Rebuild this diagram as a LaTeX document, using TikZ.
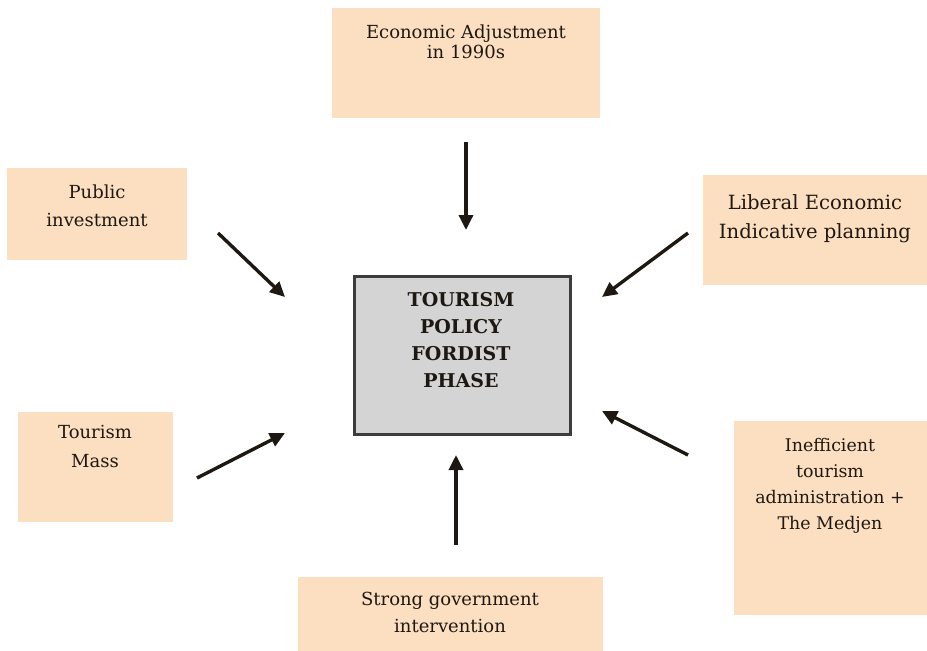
\documentclass[tikz,border=0pt]{standalone}
\usepackage{fontspec}
\setmainfont{DejaVu Serif}
\usetikzlibrary{arrows.meta}
\definecolor{peach}{HTML}{FCDEC1}
\definecolor{coregray}{HTML}{D4D4D4}
\definecolor{coreedge}{HTML}{3C3C3C}
\definecolor{ink}{HTML}{1E1812}
\tikzset{
  factor/.style={fill=peach, draw=none, inner sep=0pt, anchor=north west},
  factortext/.style 2 args={anchor=north, align=center, inner sep=0pt, text=ink,
    font=\fontsize{#1}{#2}\selectfont},
  core/.style={fill=coregray, draw=coreedge, line width=1.3pt, inner sep=0pt, anchor=north west},
  push/.style={line width=1.7pt, -{Triangle[length=7.5pt,width=7pt]}, ink},
}
\begin{document}
\begin{tikzpicture}[x=0.5pt, y=-0.5pt]
\useasboundingbox (0,0) rectangle (927,650);

% outer factor boxes
\node[factor, minimum width=134pt, minimum height=55pt] (econ) at (332,8) {};
\node[factortext={9}{10pt}] (econT) at (466,24) {Economic Adjustment\\in 1990s};

\node[factor, minimum width=90pt, minimum height=46pt] (pub) at (7,168) {};
\node[factortext={9}{14pt}] (pubT) at (97,184) {Public\\investment};

\node[factor, minimum width=112pt, minimum height=55pt] (lib) at (703,175) {};
\node[factortext={9.8}{14.5pt}] (libT) at (815,194) {Liberal Economic\\Indicative planning};

\node[factor, minimum width=77.5pt, minimum height=55pt] (mass) at (18,412) {};
\node[factortext={9}{14.5pt}] (massT) at (95,425) {Tourism\\Mass};

\node[factor, minimum width=96.5pt, minimum height=97pt] (ineff) at (734,421) {};
\node[factortext={8.7}{13pt}] (ineffT) at (830,438) {Inefficient\\tourism\\administration +\\The Medjen};

\node[factor, minimum width=152.5pt, minimum height=37pt] (gov) at (298,577) {};
\node[factortext={9}{13.5pt}] (govT) at (450,592) {Strong government\\intervention};

% central box
\node[core, minimum width=108pt, minimum height=79pt] (core) at (353,275) {};
\node[anchor=north, align=center, inner sep=0pt, text=ink,
  font=\bfseries\fontsize{9.5}{13.5pt}\selectfont] (coreT) at (461,292)
  {TOURISM\\POLICY\\FORDIST\\PHASE};

% arrow ends
\coordinate (econA) at (466,142);  \coordinate (econB) at (466,230);
\coordinate (pubA)  at (218,233);  \coordinate (pubB)  at (285,297);
\coordinate (libA)  at (688,233);  \coordinate (libB)  at (602,297);
\coordinate (massA) at (197,478);  \coordinate (massB) at (285,433);
\coordinate (ineffA) at (688,455); \coordinate (ineffB) at (602,411);
\coordinate (govA)  at (456,545);  \coordinate (govB)  at (456,455);

\draw[push] (econA) -- (econB);
\draw[push] (pubA) -- (pubB);
\draw[push] (libA) -- (libB);
\draw[push] (massA) -- (massB);
\draw[push] (ineffA) -- (ineffB);
\draw[push] (govA) -- (govB);
\end{tikzpicture}
\end{document}
